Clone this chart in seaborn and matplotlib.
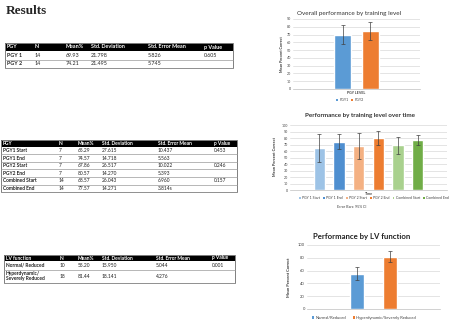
import matplotlib
matplotlib.use("Agg")
import matplotlib.pyplot as plt
import seaborn as sns
import pandas as pd
from matplotlib.patches import Rectangle, Patch

sns.set_theme(style="white")
plt.rcParams['font.family'] = ['Lato', 'DejaVu Sans']

# ---------------- data ----------------
t1_header = ["PGY", "N", "Mean%", "Std. Deviation", "Std. Error Mean", "p Value"]
t1_rows = [["PGY 1", "14", "69.93", "21.798", "5.826", "0.605"],
           ["PGY 2", "14", "74.21", "21.495", "5.745", ""]]

t2_header = ["PGY", "N", "Mean%", "Std. Deviation", "Std. Error Mean", "p Value"]
t2_rows = [["PGY1 Start", "7", "65.29", "27.615", "10.437", "0.453"],
           ["PGY1 End", "7", "74.57", "14.718", "5.563", ""],
           ["PGY2 Start", "7", "67.86", "26.517", "10.022", "0.246"],
           ["PGY2 End", "7", "80.57", "14.270", "5.393", ""],
           ["Combined Start", "14", "68.57", "26.043", "6.960", "0.157"],
           ["Combined End", "14", "77.57", "14.271", "3.814s", ""]]

t3_header = ["LV function", "N", "Mean%", "Std. Deviation", "Std. Error Mean", "p Value"]
t3_rows = [["Normal/ Reduced", "10", "55.20", "15.950", "5.044", "0.001"],
           ["Hyperdynamic/\nSeverely Reduced", "18", "81.44", "18.141", "4.276", ""]]

c1_groups = ["PGY1", "PGY2"]
c1_means = [69.93, 74.21]
c1_err = [12.0, 11.6]

c2_groups = ["PGY 1 Start", "PGY 1 End", "PGY 2 Start", "PGY 2 End", "Combined Start", "Combined End"]
c2_means = [65.29, 74.57, 67.86, 80.57, 68.57, 77.57]
c2_err = [21.5, 11.5, 20.5, 10.8, 13.5, 7.6]

c3_groups = ["Normal/Reduced", "Hyperdynamic/Severely Reduced"]
c3_means = [55.20, 81.44]
c3_err = [10.1, 8.5]

W, H = 450, 324
fig = plt.figure(figsize=(4.5, 3.24), dpi=100)
fig.patch.set_facecolor("white")

def rect(l, t, r, b):
    return [l / W, 1 - b / H, (r - l) / W, (b - t) / H]

# overlay for text / tables (pixel coordinates)
ov = fig.add_axes([0, 0, 1, 1])
ov.set_xlim(0, W)
ov.set_ylim(H, 0)
ov.axis("off")

ov.text(6, 11, "Results", family=["Liberation Serif", "DejaVu Serif"], fontweight="bold",
        fontsize=9.5, va="center", ha="left")

def draw_table(x0, y0, colw, rowh, header, rows, fs):
    tw = sum(colw)
    ov.add_patch(Rectangle((x0, y0), tw, rowh[0], facecolor="black", edgecolor="none"))
    xs = [x0]
    for w in colw[:-1]:
        xs.append(xs[-1] + w)
    for x, h in zip(xs, header):
        ov.text(x + 2, y0 + rowh[0] / 2, h, color="white", fontweight="bold", fontsize=fs,
                va="center", ha="left")
    y = y0 + rowh[0]
    for row, rh in zip(rows, rowh[1:]):
        for x, v in zip(xs, row):
            ov.text(x + 2, y + rh / 2, v, color="#222222", fontsize=fs, va="center", ha="left",
                    linespacing=1.1, fontweight="bold" if x == x0 else "normal")
        ov.plot([x0, x0 + tw], [y + rh, y + rh], color="#9a9a9a", lw=0.5)
        y += rh
    ov.add_patch(Rectangle((x0, y0), tw, y - y0, facecolor="none", edgecolor="#7f7f7f", lw=0.7))

draw_table(5, 43, [28, 31, 25, 57, 56, 31], [8, 8.5, 8.5], t1_header, t1_rows, 3.9)
draw_table(1, 140, [56, 19, 24, 56, 56, 25], [6.6] + [7.6] * 6, t2_header, t2_rows, 3.5)
draw_table(4, 255, [54, 18, 24, 54, 56, 25], [6, 8.5, 13], t3_header, t3_rows, 3.5)

def bar_chart(box, groups, means, errs, colors, xcat, width, gap, ymax, step, tfs):
    ax = fig.add_axes(rect(*box))
    df = pd.DataFrame({"x": [xcat] * len(groups), "group": groups, "value": means})
    sns.barplot(data=df, x="x", y="value", hue="group", hue_order=groups, palette=colors,
                width=width, gap=gap, errorbar=None, saturation=1, legend=False, ax=ax)
    for cont, e in zip(ax.containers, errs):
        bar = cont[0]
        cx = bar.get_x() + bar.get_width() / 2
        ax.errorbar(cx, bar.get_height(), yerr=e, color="#404040", lw=0.5, capsize=1.2,
                    capthick=0.5, zorder=5)
    ax.set_ylim(0, ymax)
    ax.set_yticks(range(0, ymax + 1, step))
    ax.set_xlim(-0.5, 0.5)
    ax.grid(axis="y", color="#d9d9d9", lw=0.5)
    ax.set_axisbelow(True)
    for s in ["left", "right", "top"]:
        ax.spines[s].set_visible(False)
    ax.spines["bottom"].set_color("#bfbfbf")
    ax.spines["bottom"].set_linewidth(0.5)
    ax.tick_params(axis="both", length=0, labelsize=tfs, colors="#404040", pad=1.5)
    ax.set_xlabel("")
    ax.set_ylabel("")
    return ax

def legend(groups, colors, cx, cy, fs, colsp):
    handles = [Patch(facecolor=c, edgecolor="none") for c in colors]
    fig.legend(handles, groups, loc="center", bbox_to_anchor=(cx / W, 1 - cy / H),
               ncol=len(groups), frameon=False, fontsize=fs, handlelength=0.55,
               handleheight=0.55, handletextpad=0.3, columnspacing=colsp, borderpad=0,
               labelcolor="#404040")

# chart 1
c1_colors = ["#5b9bd5", "#ed7d31"]
ax1 = bar_chart((293, 19, 420, 89), c1_groups, c1_means, c1_err, c1_colors, "PGY LEVEL",
                0.44, 0.36, 90, 10, 2.6)
for lab in ax1.get_xticklabels():
    lab.set_fontweight("bold")
ov.text(349, 13, "Overall performance by training level", fontsize=4.6, ha="center", va="center",
        color="#333333")
ov.text(282, 54, "Mean Percent Correct", rotation=90, fontsize=2.6, fontweight="bold",
        ha="center", va="center", color="#333333")
legend(c1_groups, c1_colors, 350, 100, 2.6, 0.8)

# chart 2
c2_colors = ["#9dc3e6", "#4f8fd0", "#f4b183", "#ed7d31", "#a9d18e", "#70ad47"]
ax2 = bar_chart((290, 125, 447, 190), c2_groups, c2_means, c2_err, c2_colors, "Time",
                0.75, 0.42, 100, 10, 2.6)
for lab in ax2.get_xticklabels():
    lab.set_fontweight("bold")
ov.text(360, 116, "Performance by training level over time", fontsize=4.5, fontweight="bold",
        ha="center", va="center", color="#333333")
ov.text(275, 157, "Mean Percent Correct", rotation=90, fontsize=2.8, fontweight="bold",
        ha="center", va="center", color="#333333")
legend(c2_groups, c2_colors, 374, 198, 2.5, 0.9)
ov.text(352, 207, "Error Bars: 95% CI", fontsize=2.6, ha="center", va="center", color="#404040")

# chart 3
c3_colors = ["#5b9bd5", "#ed7d31"]
ax3 = bar_chart((307, 245, 440, 309), c3_groups, c3_means, c3_err, c3_colors, "",
                0.5, 0.56, 100, 20, 2.9)
ax3.set_xticklabels([])
ov.text(362, 236, "Performance by LV function", fontsize=5.6, fontweight="bold",
        ha="center", va="center", color="#222222")
ov.text(289, 277, "Mean Percent Correct", rotation=90, fontsize=2.9, fontweight="bold",
        ha="center", va="center", color="#333333")
legend(c3_groups, c3_colors, 364, 318, 3.0, 1.5)

fig.savefig("out.png", dpi=100, facecolor="white")
